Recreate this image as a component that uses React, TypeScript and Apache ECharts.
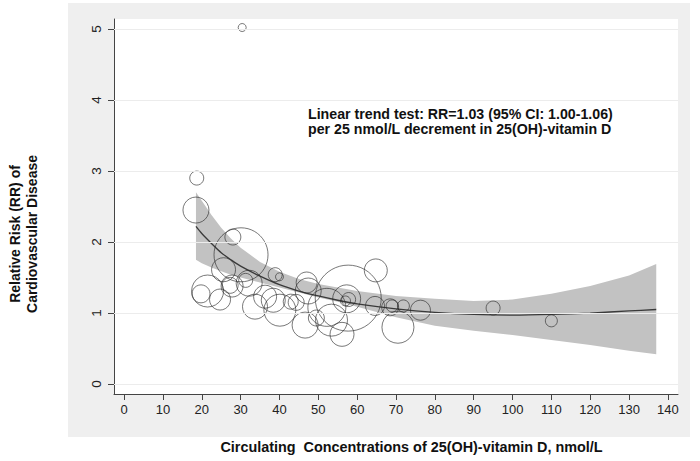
import { useEffect, useRef } from "react";
import * as echarts from "echarts";

// Axis ticks
const xTickValues = [0, 10, 20, 30, 40, 50, 60, 70, 80, 90, 100, 110, 120, 130, 140];
const yTickValues = [0, 1, 2, 3, 4, 5];

// Individual study estimates: 25(OH)D concentration, relative risk, study weight (bubble diameter)
const studyConc = [30.4, 18.7, 18.5, 28.0, 30.1, 25.6, 38.9, 40.0, 21.5, 19.8, 24.7, 31.3, 32.2, 27.8, 33.7, 36.3, 40.1, 42.9, 57.7, 64.8, 47.0, 47.4, 57.3, 57.8, 57.0, 64.6, 68.5, 69.0, 71.9, 76.3, 70.5, 56.1, 53.4, 46.6, 49.5, 44.3, 52.2, 95.0, 110.0, 38.4, 27.3];
const studyRR = [5.02, 2.90, 2.45, 2.07, 1.82, 1.61, 1.54, 1.51, 1.31, 1.27, 1.19, 1.46, 1.42, 1.38, 1.09, 1.23, 1.04, 1.16, 1.21, 1.60, 1.43, 1.31, 1.20, 1.19, 1.17, 1.10, 1.08, 1.10, 1.10, 1.04, 0.80, 0.70, 0.90, 0.83, 0.93, 1.15, 1.08, 1.07, 0.89, 1.18, 1.39];
const studyWeight = [8, 14, 26, 16, 54, 24, 14, 8, 32, 18, 21, 14, 26, 22, 25, 23, 32, 15, 66, 23, 21, 26, 28, 14, 10, 19, 17, 12, 12, 20, 32, 24, 32, 26, 16, 16, 38, 14, 12, 24, 16];

// Fitted dose-response curve and 95% CI
const curveConc = [18.5, 20, 22.5, 25, 27.5, 30, 35, 40, 45, 50, 55, 60, 70, 80, 90, 100, 110, 120, 130, 137];
const curveRR = [2.22, 2.12, 1.98, 1.85, 1.75, 1.66, 1.52, 1.40, 1.31, 1.24, 1.18, 1.13, 1.06, 1.01, 0.98, 0.97, 0.98, 1.00, 1.03, 1.05];
const ciLower = [1.75, 1.70, 1.64, 1.59, 1.54, 1.50, 1.43, 1.36, 1.29, 1.22, 1.16, 1.09, 0.94, 0.82, 0.75, 0.69, 0.62, 0.55, 0.47, 0.42];
const ciUpper = [2.70, 2.58, 2.38, 2.20, 2.05, 1.92, 1.72, 1.58, 1.48, 1.41, 1.36, 1.31, 1.24, 1.20, 1.17, 1.19, 1.27, 1.38, 1.53, 1.69];

const annotationText = "Linear trend test: RR=1.03 (95% CI: 1.00-1.06)\nper 25 nmol/L decrement in 25(OH)-vitamin D";
const xTitle = "Circulating  Concentrations of 25(OH)-vitamin D, nmol/L";
const yTitle = "Relative Risk (RR) of\nCardiovascular Disease";

const FONT = "Arial, 'Liberation Sans', sans-serif";

export default function App() {
  const ref = useRef<HTMLDivElement>(null);
  useEffect(() => {
    if (!ref.current) return;
    const chart = echarts.init(ref.current, undefined, { renderer: "svg" });
    const scatterData = studyConc.map((x, i) => [x, studyRR[i], studyWeight[i]]);
    const bandData = curveConc.map((x, i) => [x, ciLower[i], ciUpper[i]]);
    const curveData = curveConc.map((x, i) => [x, curveRR[i]]);

    chart.setOption({
      animation: false,
      backgroundColor: "#ffffff",
      textStyle: { fontFamily: FONT },
      grid: {
        left: 114,
        right: 22,
        top: 19,
        bottom: 67,
        show: true,
        backgroundColor: "#ffffff",
        borderWidth: 0,
        containLabel: false,
        outerBoundsMode: "none",
      },
      xAxis: {
        type: "value",
        min: -2.6,
        max: 142.6,
        axisLine: { show: true, onZero: false, lineStyle: { color: "#444", width: 1 } },
        axisTick: { show: true, customValues: xTickValues, length: 6, lineStyle: { color: "#444" } },
        axisLabel: { customValues: xTickValues, color: "#222", fontSize: 13, fontFamily: FONT, margin: 9 },
        splitLine: { show: false },
      },
      yAxis: {
        type: "value",
        min: -0.14,
        max: 5.14,
        axisLine: { show: true, onZero: false, lineStyle: { color: "#444", width: 1 } },
        axisTick: { show: true, customValues: yTickValues, length: 6, lineStyle: { color: "#444" } },
        axisLabel: { customValues: yTickValues, color: "#222", fontSize: 13.5, fontFamily: FONT, rotate: 90, margin: 11 },
        splitLine: { show: false },
      },
      graphic: [
        {
          type: "rect",
          z: -10,
          shape: { x: 68, y: 3, width: 622, height: 434 },
          style: { fill: "#efefef" },
          silent: true,
        },
        {
          type: "text",
          left: 308,
          top: 106,
          z: 50,
          style: { text: annotationText, font: `bold 14.2px ${FONT}`, lineHeight: 15, fill: "#111" },
        },
        {
          type: "text",
          x: 411.5,
          y: 446.5,
          z: 50,
          style: {
            text: xTitle,
            font: `bold 14.4px ${FONT}`,
            fill: "#111",
            align: "center",
            verticalAlign: "middle",
            textAlign: "center",
            textVerticalAlign: "middle",
          },
        },
        {
          type: "text",
          x: 23.5,
          y: 234,
          rotation: Math.PI / 2,
          z: 50,
          style: {
            text: yTitle,
            font: `bold 14px ${FONT}`,
            lineHeight: 17,
            fill: "#111",
            align: "center",
            verticalAlign: "middle",
            textAlign: "center",
            textVerticalAlign: "middle",
          },
        },
      ],
      series: [
        {
          type: "line",
          name: "grid",
          data: [],
          silent: true,
          z: 1,
          markLine: {
            silent: true,
            symbol: "none",
            label: { show: false },
            lineStyle: { color: "#ececec", width: 1, type: "solid" },
            data: yTickValues.map((v) => ({ yAxis: v })),
          },
        },
        {
          type: "custom",
          name: "ciBand",
          data: bandData,
          encode: { x: 0, y: [1, 2] },
          silent: true,
          z: 2,
          renderItem: (params: any, api: any) => {
            if (params.dataIndex !== 0) return null;
            const upper = bandData.map((d) => api.coord([d[0], d[2]]));
            const lower = bandData.map((d) => api.coord([d[0], d[1]])).reverse();
            return {
              type: "polygon",
              shape: { points: upper.concat(lower) },
              style: { fill: "#c2c2c2", stroke: "none" },
            };
          },
        },
        {
          type: "line",
          name: "curve",
          data: curveData,
          smooth: 0.3,
          showSymbol: false,
          symbol: "none",
          lineStyle: { color: "#3a3a3a", width: 1.3 },
          silent: true,
          z: 3,
        },
        {
          type: "scatter",
          name: "studies",
          data: scatterData,
          symbol: "circle",
          symbolSize: (val: number[]) => val[2],
          itemStyle: { color: "rgba(0,0,0,0)", borderColor: "#2a2a2a", borderWidth: 0.8 },
          silent: true,
          z: 4,
        },
      ],
    });
    return () => chart.dispose();
  }, []);
  return (
    <div
      ref={ref}
      style={{ position: "fixed", left: 0, top: 0, width: 700, height: 461 }}
    />
  );
}
